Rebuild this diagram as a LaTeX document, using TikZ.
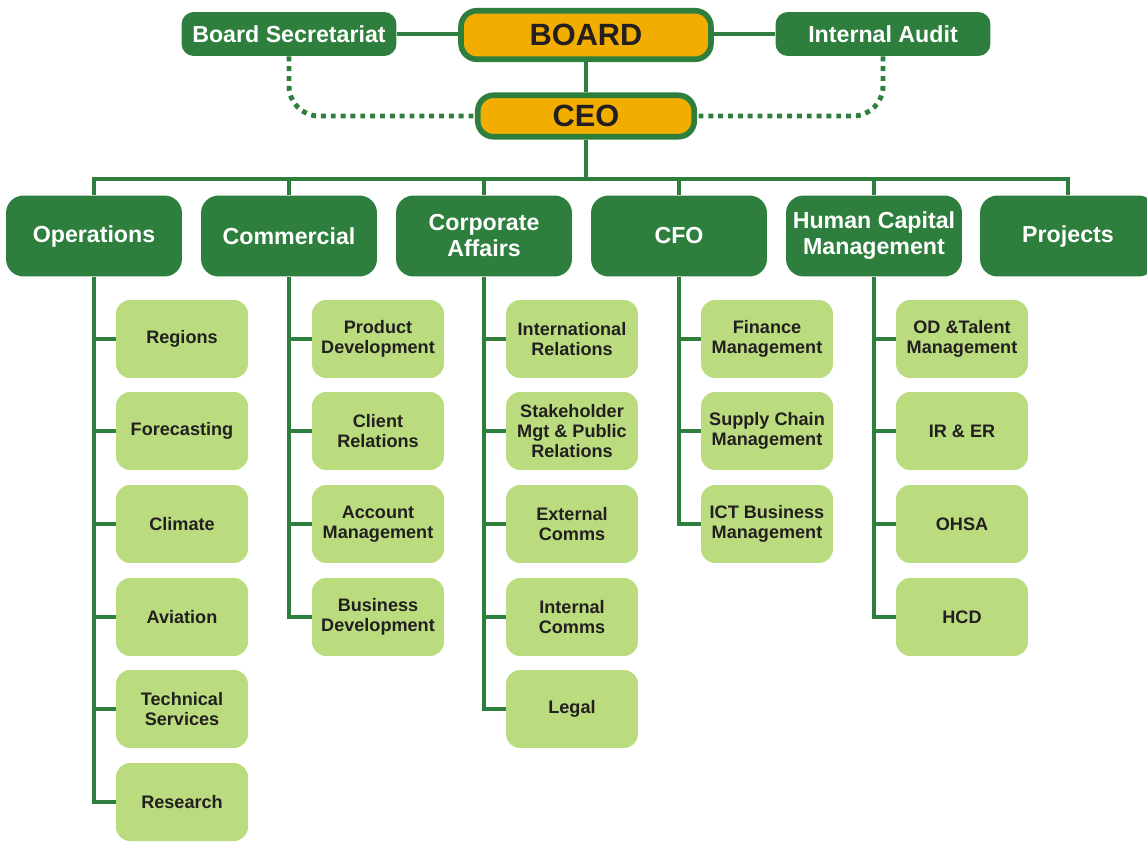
\documentclass[tikz,border=0pt]{standalone}
\usepackage{fontspec}
\setmainfont{Liberation Sans}
\definecolor{orggreen}{HTML}{2E7F3E}
\definecolor{boardgold}{HTML}{F2AE00}
\definecolor{unitgreen}{HTML}{BADC7E}
\definecolor{inkdark}{HTML}{231F20}

\tikzset{
  head/.style={draw=orggreen, line width=3.2pt, fill=boardgold, rounded corners=9pt,
    text=inkdark, inner sep=0pt, font=\fontsize{17.5}{20}\selectfont\bfseries},
  office/.style={fill=orggreen, rounded corners=7pt, text=white, inner sep=0pt,
    minimum width=4.3cm, minimum height=0.88cm, font=\fontsize{13.2}{14.8}\selectfont\bfseries},
  division/.style={fill=orggreen, rounded corners=10pt, text=white, inner sep=0pt,
    minimum width=3.52cm, minimum height=1.62cm, align=center,
    font=\fontsize{13.2}{14.8}\selectfont\bfseries},
  unit/.style={fill=unitgreen, rounded corners=8pt, text=inkdark, inner sep=0pt,
    minimum width=2.64cm, minimum height=1.56cm, align=center,
    font=\fontsize{10.3}{11.6}\selectfont\bfseries},
  link/.style={draw=orggreen, line width=2.6pt},
  dotlink/.style={draw=orggreen, line width=2.8pt, dash pattern=on 2.8pt off 2.8pt,
    rounded corners=0.6cm}
}

\begin{document}
\begin{tikzpicture}[x=0.02cm, y=-0.02cm]
    \useasboundingbox (0,0) rectangle (1147,842);

    % top of the tree
    \node[head, minimum width=5cm, minimum height=0.97cm] (board) at (586,35) {BOARD};
    \node[head, minimum width=4.33cm, minimum height=0.83cm] (ceo) at (586,116) {CEO};
    \node[office] (bsec) at (289,34) {Board Secretariat};
    \node[office] (iaudit) at (883,34) {Internal Audit};
    \coordinate (bar) at (586,179);

    % divisions
    \node[division] (ops) at (94,236) {Operations};
    \node[division] (comm) at (289,236) {Commercial};
    \node[division] (corp) at (484,236) {Corporate\\Affairs};
    \node[division] (cfo) at (679,236) {CFO};
    \node[division] (hcm) at (874,236) {Human Capital\\Management};
    \node[division] (proj) at (1068,236) {Projects};

    % operations
    \node[unit] (reg) at (182,339) {Regions};
    \node[unit] (fore) at (182,431) {Forecasting};
    \node[unit] (clim) at (182,524) {Climate};
    \node[unit] (avi) at (182,617) {Aviation};
    \node[unit] (tech) at (182,709) {Technical\\Services};
    \node[unit] (res) at (182,802) {Research};

    % commercial
    \node[unit] (prod) at (378,339) {Product\\Development};
    \node[unit] (client) at (378,431) {Client\\Relations};
    \node[unit] (acct) at (378,524) {Account\\Management};
    \node[unit] (busdev) at (378,617) {Business\\Development};

    % corporate affairs
    \node[unit] (intrel) at (572,339) {International\\Relations};
    \node[unit] (stake) at (572,431) {Stakeholder\\Mgt \& Public\\Relations};
    \node[unit] (extc) at (572,524) {External\\Comms};
    \node[unit] (intc) at (572,617) {Internal\\Comms};
    \node[unit] (legal) at (572,709) {Legal};

    % cfo
    \node[unit] (fin) at (767,339) {Finance\\Management};
    \node[unit] (supply) at (767,431) {Supply Chain\\Management};
    \node[unit] (ict) at (767,524) {ICT Business\\Management};

    % human capital
    \node[unit] (odt) at (962,339) {OD \&Talent\\Management};
    \node[unit] (irer) at (962,431) {IR \& ER};
    \node[unit] (ohsa) at (962,524) {OHSA};
    \node[unit] (hcd) at (962,617) {HCD};

    % board level links
    \draw[link] (bsec.east) -- (bsec.east -| board.west);
    \draw[link] (iaudit.west) -- (iaudit.west -| board.east);
    \draw[link] (board) -- (ceo);
    \draw[dotlink] (bsec.south) |- (ceo.west);
    \draw[dotlink] (iaudit.south) |- (ceo.east);

    % ceo to divisions
    \draw[link] (ceo) -- (bar);
    \draw[link] (ops.north) |- (bar) -| (proj.north);
    \draw[link] (comm.north) -- (comm.north |- bar);
    \draw[link] (corp.north) -- (corp.north |- bar);
    \draw[link] (cfo.north) -- (cfo.north |- bar);
    \draw[link] (hcm.north) -- (hcm.north |- bar);

    % divisions to units
    \draw[link] (ops.south) |- (res.west);
    \draw[link] (ops.south |- reg) edge (reg) (ops.south |- fore) edge (fore)
        (ops.south |- clim) edge (clim) (ops.south |- avi) edge (avi)
        (ops.south |- tech) edge (tech);
    \draw[link] (comm.south) |- (busdev.west);
    \draw[link] (comm.south |- prod) edge (prod) (comm.south |- client) edge (client)
        (comm.south |- acct) edge (acct);
    \draw[link] (corp.south) |- (legal.west);
    \draw[link] (corp.south |- intrel) edge (intrel) (corp.south |- stake) edge (stake)
        (corp.south |- extc) edge (extc) (corp.south |- intc) edge (intc);
    \draw[link] (cfo.south) |- (ict.west);
    \draw[link] (cfo.south |- fin) edge (fin) (cfo.south |- supply) edge (supply);
    \draw[link] (hcm.south) |- (hcd.west);
    \draw[link] (hcm.south |- odt) edge (odt) (hcm.south |- irer) edge (irer)
        (hcm.south |- ohsa) edge (ohsa);
\end{tikzpicture}
\end{document}
